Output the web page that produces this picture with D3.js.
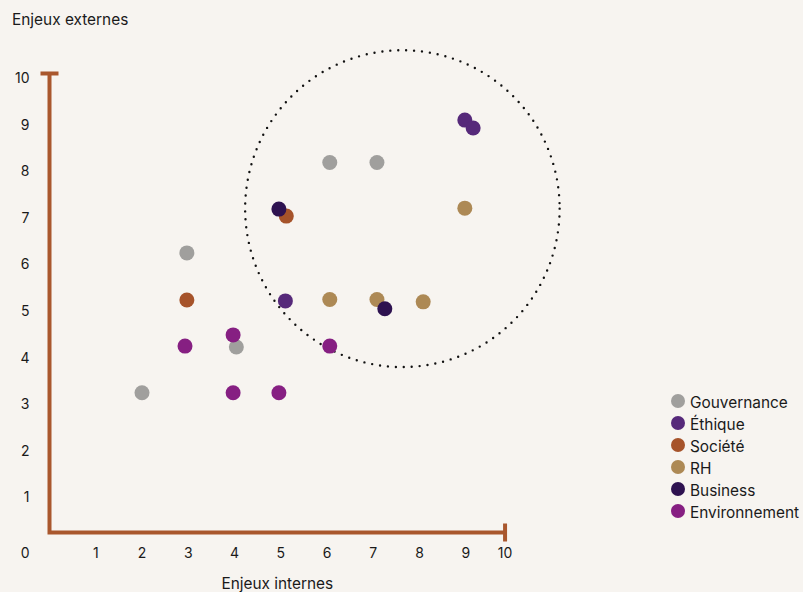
<!DOCTYPE html>
<html>
<head>
<meta charset="utf-8">
<script src="https://cdn.jsdelivr.net/npm/d3@7"></script>
<style>
  html, body { margin: 0; padding: 0; background: #f7f4f0; }
  text { font-family: Inter, "Noto Sans", sans-serif; fill: #1a1a1a; }
</style>
</head>
<body>
<div id="chart"></div>
<script>
const categories = ['Gouvernance', 'Éthique', 'Société', 'RH', 'Business', 'Environnement']
const colors = ['#a09f9d', '#56297a', '#a6532a', '#ad8955', '#2e1250', '#861f82']

// [enjeux internes, enjeux externes] per category
const gouvernance = [[2.0, 3.0], [2.97, 6.0], [4.04, 3.98], [6.06, 7.94], [7.08, 7.94]]
const ethique = [[8.98, 8.85], [9.16, 8.68], [5.1, 4.97]]
const societe = [[2.97, 4.99], [5.12, 6.79]]
const rh = [[8.98, 6.96], [6.06, 5.0], [7.08, 5.0], [8.08, 4.95]]
const business = [[4.96, 6.94], [7.25, 4.8]]
const environnement = [[2.93, 4.0], [3.97, 4.24], [3.97, 3.0], [4.96, 3.0], [6.06, 4.0]]

const tickValues = [1, 2, 3, 4, 5, 6, 7, 8, 9, 10]
const zone = {cx: 7.63, cy: 6.95, r: 3.4}   // dotted circle, in data units
const axisMax = 9.85

const series = [gouvernance, ethique, societe, rh, business, environnement]

const width = 803, height = 592
const axisColor = '#a9572d'

var x = d3.scaleLinear().domain([0, 10]).range([49.5, 512])
var y = d3.scaleLinear().domain([0, 10]).range([532.5, 66.5])

const svg = d3.select('#chart').append('svg')
    .attr('width', width).attr('height', height)
    .attr('viewBox', [0, 0, width, height])

// dotted zone
svg.append('ellipse')
    .attr('cx', x(zone.cx)).attr('cy', y(zone.cy))
    .attr('rx', x(zone.cx + zone.r) - x(zone.cx))
    .attr('ry', y(zone.cy) - y(zone.cy + zone.r))
    .attr('fill', 'none')
    .attr('stroke', '#111')
    .attr('stroke-width', 2.4)
    .attr('stroke-linecap', 'round')
    .attr('stroke-dasharray', '0 7.95')

// axes
const ax = svg.append('g').attr('stroke', axisColor).attr('stroke-width', 4).attr('fill', 'none')
ax.append('path')
    .attr('d', `M${x(0)},${y(axisMax)}V${y(0)}H${x(axisMax)}`)
    .attr('stroke-linejoin', 'miter')
ax.append('line')
    .attr('x1', x(0) - 9).attr('x2', x(0) + 9)
    .attr('y1', y(axisMax)).attr('y2', y(axisMax))
ax.append('line')
    .attr('x1', x(axisMax)).attr('x2', x(axisMax))
    .attr('y1', y(0) - 9).attr('y2', y(0) + 9)

// tick labels
svg.append('g').selectAll('text')
    .data(tickValues)
    .join('text')
    .attr('x', d => x(Math.min(d, axisMax)))
    .attr('y', y(0) + 20)
    .attr('text-anchor', 'middle')
    .attr('dominant-baseline', 'central')
    .attr('font-size', 14)
    .text(d => d)

svg.append('g').selectAll('text')
    .data(tickValues)
    .join('text')
    .attr('x', 29.5)
    .attr('y', d => y(d) + 11)
    .attr('text-anchor', 'end')
    .attr('dominant-baseline', 'central')
    .attr('font-size', 14)
    .text(d => d)

svg.append('text')
    .attr('x', 29.5).attr('y', y(0) + 20)
    .attr('text-anchor', 'end')
    .attr('dominant-baseline', 'central')
    .attr('font-size', 14)
    .text('0')

// axis titles
svg.append('text')
    .attr('x', 12).attr('y', 19)
    .attr('dominant-baseline', 'central')
    .attr('font-size', 15.4)
    .text('Enjeux externes')

svg.append('text')
    .attr('x', (x(0) + x(axisMax)) / 2).attr('y', 583)
    .attr('text-anchor', 'middle')
    .attr('dominant-baseline', 'central')
    .attr('font-size', 15.4)
    .text('Enjeux internes')

// points
series.forEach((pts, i) => {
  svg.append('g').selectAll('circle')
      .data(pts)
      .join('circle')
      .attr('cx', d => x(d[0]))
      .attr('cy', d => y(d[1]))
      .attr('r', 7.5)
      .attr('fill', colors[i])
})

// legend
const legend = svg.append('g').attr('transform', 'translate(678,401)')
const item = legend.selectAll('g')
    .data(categories)
    .join('g')
    .attr('transform', (d, i) => `translate(0,${i * 22})`)
item.append('circle').attr('r', 7).attr('fill', (d, i) => colors[i])
item.append('text')
    .attr('x', 12).attr('y', 1)
    .attr('dominant-baseline', 'central')
    .attr('font-size', 15.4)
    .text(d => d)
</script>
</body>
</html>
